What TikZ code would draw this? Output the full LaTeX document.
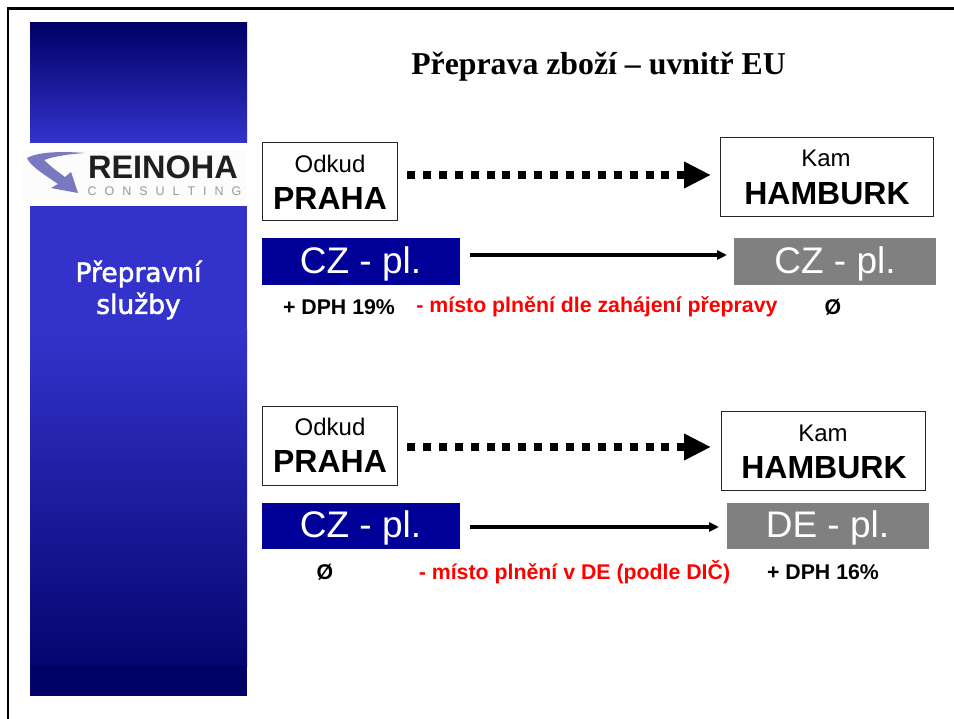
\documentclass[tikz,border=0pt]{standalone}
\usepackage{fontspec}
\setmainfont{Liberation Sans}
\newfontfamily\serifbold[BoldFont={Liberation Serif Bold}]{Liberation Serif}
\newfontfamily\sidefont[FakeBold=2]{DejaVu Sans}
\usetikzlibrary{arrows.meta}
\definecolor{navy}{HTML}{000066}
\definecolor{panel}{HTML}{3333CC}
\definecolor{plblue}{HTML}{000099}
\definecolor{plgray}{HTML}{808080}
\tikzset{
  place/.style={draw=black!85,line width=1pt,fill=white,inner sep=0pt},
  plan/.style={inner sep=0pt,text=white,font=\fontsize{37}{37}\selectfont},
  small/.style={inner sep=0pt,font=\fontsize{24}{24}\selectfont},
  big/.style={inner sep=0pt,font=\bfseries\fontsize{32}{32}\selectfont},
  note/.style={inner sep=0pt,font=\bfseries\fontsize{21.3}{21.3}\selectfont},
  route/.style={line width=8pt,dash pattern=on 8pt off 7.9pt,-{Triangle[length=27pt,width=25pt]}},
  flow/.style={line width=3.8pt,-{Triangle[length=10pt,width=9pt]}},
}
\begin{document}
\begin{tikzpicture}[x=1pt,y=-1pt]
\useasboundingbox (0,0) rectangle (954,719);
\fill[white] (0,0) rectangle (954,719);
% slide frame
\draw[black,line width=2.4pt] (8,719) -- (8,8.5) -- (954,8.5);
% side panel
\shade[top color=navy,bottom color=panel] (30,23) rectangle (247,143);
\fill[panel] (30,206) rectangle (247,330);
\shade[top color=panel,bottom color=navy!90!panel] (30,330) rectangle (247,666);
\fill[navy] (30,666) rectangle (247,696);
% logo
\fill[black!1] (22,150) rectangle (246,201);
\fill[panel!55!white!85!black] (85,153) .. controls (60,151) and (38,152) .. (27,158)
  .. controls (30,166) and (45,175) .. (58,184) -- (51,188) -- (78,193) -- (71,172) -- (65,177)
  .. controls (55,170) and (47,163) .. (44,160) .. controls (55,156) and (70,154) .. (85,153) -- cycle;
\node[inner sep=0pt,font=\bfseries\fontsize{32.5}{32}\selectfont,text=black!88] (logoa) at (163,167) {REINOHA};
\node[inner sep=0pt,font=\fontsize{12.5}{12}\selectfont,text=black!40] (logob) at (164.5,191) {C\hspace{8pt}O\hspace{8pt}N\hspace{8pt}S\hspace{8pt}U\hspace{8pt}L\hspace{8pt}T\hspace{8pt}I\hspace{8pt}N\hspace{8pt}G};
\node[inner sep=0pt,align=center,text=white,font=\sidefont\fontsize{26.5}{32}\selectfont] (side) at (138.5,290) {Přepravní\\služby};
% title
\node[inner sep=0pt,font=\serifbold\bfseries\fontsize{31.8}{32}\selectfont] (title) at (598.5,67) {Přeprava zboží – uvnitř EU};
% first case
\node[place,minimum width=135pt,minimum height=78pt] (from1) at (330,182) {};
\node[small] (from1a) at (330,164) {Odkud};
\node[big] (from1b) at (330,198) {PRAHA};
\node[place,minimum width=213pt,minimum height=79pt] (to1) at (826.5,177.5) {};
\node[small] (to1a) at (826,158) {Kam};
\node[big] (to1b) at (827,193.5) {HAMBURK};
\coordinate (r1s) at (407,175);
\coordinate (r1e) at (711,175);
\draw[route] (r1s) -- (r1e);
\node[fill=plblue,minimum width=198pt,minimum height=47pt,inner sep=0pt] (pl1a) at (361,261.5) {};
\node[plan] (pl1at) at (360.5,264) {CZ - pl.};
\node[fill=plgray,minimum width=202pt,minimum height=47pt,inner sep=0pt] (pl1b) at (835,261.5) {};
\node[plan] (pl1bt) at (835,264) {CZ - pl.};
\coordinate (f1s) at (470,255);
\coordinate (f1e) at (727,255);
\draw[flow] (f1s) -- (f1e);
\node[note] (n1a) at (339,307) {+ DPH 19\%};
\node[note,text=red] (n1b) at (597,307) {- místo plnění dle zahájení přepravy};
\node[note] (n1c) at (833,307) {Ø};
% second case
\node[place,minimum width=135pt,minimum height=78pt] (from2) at (330,446) {};
\node[small] (from2a) at (330,427) {Odkud};
\node[big] (from2b) at (330,461) {PRAHA};
\node[place,minimum width=204pt,minimum height=78pt] (to2) at (823.5,451) {};
\node[small] (to2a) at (823,433) {Kam};
\node[big] (to2b) at (824,467.5) {HAMBURK};
\coordinate (r2s) at (407,447);
\coordinate (r2e) at (711,447);
\draw[route] (r2s) -- (r2e);
\node[fill=plblue,minimum width=198pt,minimum height=46pt,inner sep=0pt] (pl2a) at (361,526) {};
\node[plan] (pl2at) at (360.5,528) {CZ - pl.};
\node[fill=plgray,minimum width=202pt,minimum height=46pt,inner sep=0pt] (pl2b) at (828,526) {};
\node[plan] (pl2bt) at (827.5,528) {DE - pl.};
\coordinate (f2s) at (470,527);
\coordinate (f2e) at (719,527);
\draw[flow] (f2s) -- (f2e);
\node[note] (n2a) at (325,572) {Ø};
\node[note,text=red] (n2b) at (574.5,572) {- místo plnění v DE (podle DIČ)};
\node[note] (n2c) at (823,572) {+ DPH 16\%};
\end{tikzpicture}
\end{document}
